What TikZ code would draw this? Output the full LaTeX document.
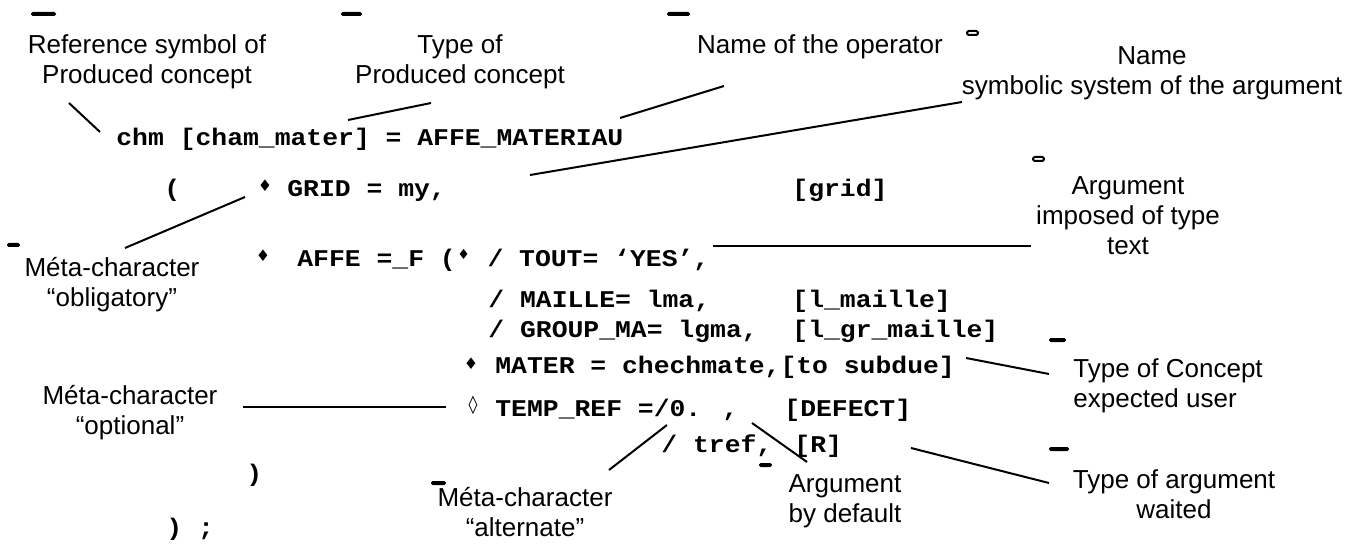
\documentclass[tikz,border=0pt]{standalone}
\usepackage{fontspec}
\usepackage{tikz}
\usetikzlibrary{positioning}
\newfontfamily\lblfont{Liberation Sans}
\newfontfamily\codefont[FakeStretch=1.1]{Liberation Mono}
\newfontfamily\symfont{DejaVu Sans}
\newcommand{\dmd}{\makebox[\fontcharwd\font`M]{\raisebox{0.55ex}{\symfont\fontsize{7}{7}\selectfont ♦}}}

\begin{document}
\begin{tikzpicture}[
        x=0.5pt, y=-0.5pt,
        lbl/.style={font=\lblfont\fontsize{13}{15}\selectfont, align=center,
            inner sep=0pt, anchor=north},
        codeline/.style={font=\codefont\bfseries\fontsize{12}{14}\selectfont,
            inner sep=0pt, anchor=base west},
        meta/.style={font=\symfont\fontsize{#1}{#1}\selectfont, inner sep=0pt},
        pointer/.style={line width=1pt},
        blot/.style={fill=black, rounded corners=0.8pt}
    ]
        \fill[white] (0,0) rectangle (1364,545);
        \useasboundingbox (0,0) rectangle (1364,545);

        % labels
        \node[lbl] (refLbl) at (147,34) {Reference symbol of\\Produced concept};
        \node[lbl] (typeLbl) at (460,34) {Type of\\Produced concept};
        \node[lbl] (opLbl) at (820,34) {Name of the operator};
        \node[lbl] (symLbl) at (1152,46) {Name\\symbolic system of the argument};
        \node[lbl] (impLbl) at (1128,176) {Argument\\imposed of type\\text};
        \node[lbl] (oblLbl) at (112,257) {Méta-character\\“obligatory”};
        \node[lbl] (optLbl) at (130,385) {Méta-character\\“optional”};
        \node[lbl] (altLbl) at (525,487) {Méta-character\\“alternate”};
        \node[lbl] (defLbl) at (845,474) {Argument\\by default};
        \node[lbl, anchor=north west, align=left] (expLbl) at (1073,358) {Type of Concept\\expected user};
        \node[lbl] (waitLbl) at (1174,469) {Type of argument\\waited};

        % command text
        \node[codeline] (c1) at (116,146) {chm [cham\_mater] = AFFE\_MATERIAU};
        \node[codeline] (c2open) at (164,197) {(};
        \node[meta=8] (d2) at (265,186) {♦};
        \node[codeline] (c2) at (287,197) {GRID = my,};
        \node[codeline] (b2) at (792,197) {[grid]};
        \node[meta=8] (d3) at (263,256) {♦};
        \node[codeline] (c3) at (297,266) {AFFE =\_F (\dmd{} / TOUT= ‘YES’,};
        \node[codeline] (c4) at (488,307) {/ MAILLE= lma,};
        \node[codeline] (b4) at (792,307) {[l\_maille]};
        \node[codeline] (c5) at (488,337) {/ GROUP\_MA= lgma,};
        \node[codeline] (b5) at (792,337) {[l\_gr\_maille]};
        \node[meta=8] (d6) at (471,364) {♦};
        \node[codeline] (c6) at (495,373) {MATER = chechmate,[to subdue]};
        \node[meta=9] (d7) at (473,405) {◊};
        \node[codeline] (c7) at (495,416) {TEMP\_REF =/0. ,};
        \node[codeline] (b7) at (784,416) {[DEFECT]};
        \node[codeline] (c8) at (661,452) {/ tref,};
        \node[codeline] (b8) at (794,452) {[R]};
        \node[codeline] (c9) at (246,481) {)};
        \node[codeline] (c10) at (166,535) {) ;};

        % pointer ends
        \coordinate (refA) at (69,103);   \coordinate (refB) at (100,132);
        \coordinate (typeA) at (348,120); \coordinate (typeB) at (431,103);
        \coordinate (opA) at (620,118);   \coordinate (opB) at (724,86);
        \coordinate (symA) at (530,175);  \coordinate (symB) at (962,102);
        \coordinate (oblA) at (245,197);  \coordinate (oblB) at (125,248);
        \coordinate (impA) at (713,246);  \coordinate (impB) at (1031,246);
        \coordinate (optA) at (243,407);  \coordinate (optB) at (446,407);
        \coordinate (altA) at (667,425);  \coordinate (altB) at (609,470);
        \coordinate (defA) at (752,423);  \coordinate (defB) at (807,462);
        \coordinate (expA) at (966,358);  \coordinate (expB) at (1049,374);
        \coordinate (waitA) at (911,448); \coordinate (waitB) at (1049,483);

        \draw[pointer] (refA) -- (refB);
        \draw[pointer] (typeA) -- (typeB);
        \draw[pointer] (opA) -- (opB);
        \draw[pointer] (symA) -- (symB);
        \draw[pointer] (oblA) -- (oblB);
        \draw[pointer] (impA) -- (impB);
        \draw[pointer] (optA) -- (optB);
        \draw[pointer] (altA) -- (altB);
        \draw[pointer] (defA) -- (defB);
        \draw[pointer] (expA) -- (expB);
        \draw[pointer] (waitA) -- (waitB);

        % stray marks
        \fill[blot] (31,12) rectangle (56,16);
        \fill[blot] (341,12) rectangle (362,16);
        \fill[blot] (667,12) rectangle (690,16);
        \fill[blot] (7,243) rectangle (20,247);
        \fill[blot] (1049,338) rectangle (1066,342);
        \fill[blot] (1049,447) rectangle (1069,451);
        \fill[blot] (759,463) rectangle (772,467);
        \fill[blot] (431,481) rectangle (446,485);
        \draw[line width=1pt, rounded corners=1pt] (967,31) rectangle (978,35);
        \draw[line width=1pt, rounded corners=1pt] (1033,157) rectangle (1044,161);
    \end{tikzpicture}
\end{document}
